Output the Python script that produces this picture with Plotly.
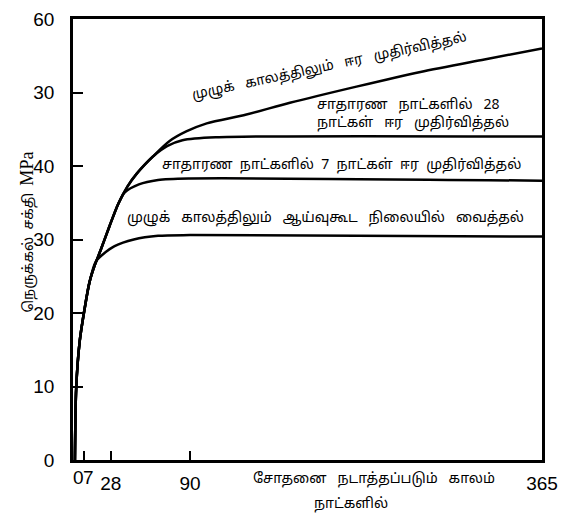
import plotly.graph_objects as go

# ---- data (days, MPa) ----
moist_all_days = [0, 1.0, 3.7, 7.5, 11.4, 15.3, 20.2, 27, 34, 41, 48, 61, 74, 87, 103, 134, 168, 220, 270, 320, 365]
moist_all_mpa = [0, 9.8, 16.1, 20.5, 24.2, 26.4, 28.6, 31.8, 34.9, 37.2, 38.9, 41.3, 43.4, 44.7, 45.8, 47.0, 48.6, 50.8, 52.8, 54.5, 56.0]

moist28_days = [0, 1.0, 3.7, 7.5, 11.4, 15.3, 20.2, 27, 34, 41, 48, 61, 72, 84, 110, 365]
moist28_mpa = [0, 9.8, 16.1, 20.5, 24.2, 26.4, 28.6, 31.8, 34.9, 37.2, 38.9, 41.3, 42.7, 43.5, 43.9, 44.0]

moist7_days = [0, 1.0, 3.7, 7.5, 11.4, 15.3, 20.2, 27, 34, 39, 50, 65, 90, 365]
moist7_mpa = [0, 9.8, 16.1, 20.5, 24.2, 26.4, 28.6, 31.8, 34.9, 36.4, 37.5, 38.1, 38.3, 38.0]

lab_days = [0, 1.0, 3.7, 7.5, 11.4, 16.3, 22, 31, 46, 65, 90, 365]
lab_mpa = [0, 9.8, 16.1, 20.5, 24.2, 27.0, 28.0, 29.1, 30.0, 30.5, 30.6, 30.4]

x_tick_vals = [0, 7, 28, 90, 365]
x_tick_text = ["", "", "28", "90", "365"]   # "0" and "7" are drawn as annotations (they touch: "07")
x_small_ticks = [0, 7]
x_small_text = ["0", "7"]
y_tick_vals = [0, 10, 20, 30, 40, 50, 60]
y_tick_text = ["0", "10", "20", "30", "40", "30", "60"]

S = "\u00a0\u00a0\u00a0"
S2 = "\u00a0\u00a0"
label_all = S.join(["முழுக்", "காலத்திலும்", "ஈர", "முதிர்வித்தல்"])
label_28 = S.join(["சாதாரண", "நாட்களில்", "28"]) + "<br>" + S.join(["நாட்கள்", "ஈர", "முதிர்வித்தல்"])
label_7 = S2.join(["சாதாரண", "நாட்களில்", "7", "நாட்கள்", "ஈர", "முதிர்வித்தல்"])
label_lab = S.join(["முழுக்", "காலத்திலும்", "ஆய்வுகூட", "நிலையில்", "வைத்தல்"])
x_title_1 = S.join(["சோதனை", "நடாத்தப்படும்", "காலம்"])
x_title_2 = "நாட்களில்"
y_title = ("நெருக்கல்" + S2 + "சக்தி" + S2 +
           "<span style='font-family:Liberation Serif, Times New Roman, serif;font-size:18px'>MPa</span>")

TAMIL = "Noto Sans Tamil, Lohit Tamil, Noto Sans, sans-serif"
DIGITS = "Liberation Sans, Arial, sans-serif"

fig = go.Figure()
for xs, ys in [(lab_days, lab_mpa), (moist7_days, moist7_mpa),
               (moist28_days, moist28_mpa), (moist_all_days, moist_all_mpa)]:
    fig.add_trace(go.Scatter(x=xs, y=ys, mode="lines",
                             line=dict(color="black", width=2.5, shape="spline", smoothing=0.8),
                             showlegend=False, hoverinfo="skip"))

# page body has an 8px margin: plot area in page pixels is x 73..542, y 19..460
def px2x(px):
    return (px - 75) / 1.285

def py2y(py):
    return (460 - py) / 7.35

tf = dict(family=TAMIL, size=14, color="black")
ann = []
ann.append(dict(x=px2x(331), y=py2y(66), text=label_all, textangle=-12, showarrow=False, font=tf))
ann.append(dict(x=px2x(316), y=py2y(114), text=label_28, xanchor="left", align="left", showarrow=False, font=tf))
ann.append(dict(x=px2x(343), y=py2y(165), text=label_7, showarrow=False, font=tf))
ann.append(dict(x=px2x(327), y=py2y(218), text=label_lab, showarrow=False, font=tf))
ann.append(dict(xref="paper", yref="paper", x=(374 - 73) / 469, y=-(480 - 460) / 441,
                text=x_title_1, showarrow=False, yanchor="middle", font=tf))
ann.append(dict(xref="paper", yref="paper", x=(390 - 73) / 469, y=-(505 - 460) / 441,
                text=x_title_2, showarrow=False, yanchor="middle", font=tf))
ann.append(dict(xref="paper", yref="paper", x=(14 - 73) / 469, y=(460 - 232) / 441,
                text=y_title, textangle=-90, showarrow=False,
                font=dict(family=TAMIL, size=14, color="black")))
for v, t, sh in zip(x_small_ticks, x_small_text, [4, 5]):
    ann.append(dict(x=v, y=0, yref="y", text=t, showarrow=False, yanchor="top", yshift=-5, xshift=sh,
                    font=dict(family=DIGITS, size=19, color="black")))

fig.update_layout(
    width=566, height=510,
    margin=dict(l=65, r=32, t=11, b=58, autoexpand=False),
    paper_bgcolor="white", plot_bgcolor="white",
    annotations=ann,
    xaxis=dict(range=[-1.5, 365], tickvals=x_tick_vals, ticktext=x_tick_text, tickangle=0,
               automargin=False,
               showgrid=False, zeroline=False, showline=True, linecolor="black", linewidth=2.5,
               mirror=True, ticks="inside", ticklen=9, tickwidth=2, tickcolor="black",
               ticklabelstandoff=4,
               tickfont=dict(family=DIGITS, size=19, color="black")),
    yaxis=dict(range=[0, 60], tickvals=y_tick_vals, ticktext=y_tick_text,
               automargin=False, ticklabeloverflow="allow",
               showgrid=False, zeroline=False, showline=True, linecolor="black", linewidth=2.5,
               mirror=True, ticks="inside", ticklen=10, tickwidth=2, tickcolor="black",
               ticklabelstandoff=12,
               tickfont=dict(family=DIGITS, size=19, color="black")),
)

fig.write_html("out.html")
